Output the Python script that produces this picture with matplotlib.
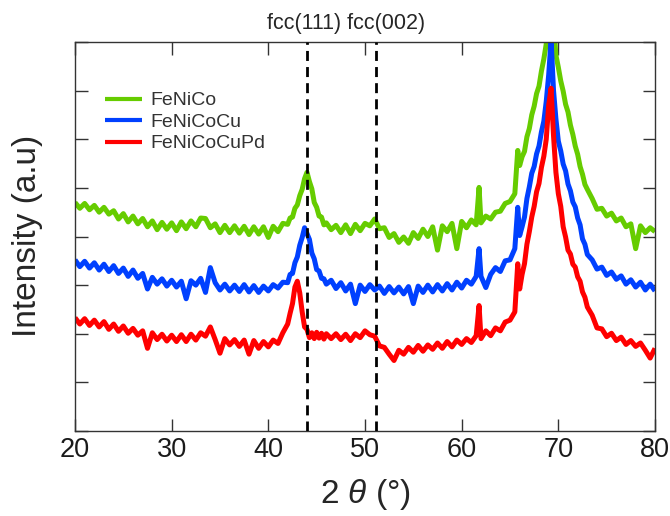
import numpy as np
import matplotlib
matplotlib.use("Agg")
import matplotlib.pyplot as plt
from matplotlib.transforms import blended_transform_factory

plt.rcParams['font.family'] = ['Liberation Sans', 'DejaVu Sans']
plt.rcParams['mathtext.fontset'] = 'custom'
plt.rcParams['mathtext.it'] = 'Liberation Sans:italic'
plt.rcParams['mathtext.rm'] = 'Liberation Sans'

# ---- sampling grid of 2-theta (degrees) ----
two_theta = np.concatenate([
    np.arange(20.0, 41.75, 0.5),    # 44
    np.arange(42.0, 46.1, 0.25),    # 17
    np.arange(46.5, 61.75, 0.5),    # 31
    [61.8],                         # 1
    np.arange(62.0, 65.75, 0.5),    # 8
    [65.8],                         # 1
    np.arange(66.0, 73.1, 0.25),    # 29
    np.arange(73.5, 80.25, 0.5),    # 14
])

# ---- intensities (a.u., offset for display) ----
fenico = [
    4.70, 4.58, 4.68, 4.55, 4.64, 4.50, 4.60, 4.46, 4.53, 4.36, 4.47, 4.30, 4.42, 4.26, 4.37, 4.20,
    4.32, 4.14, 4.29, 4.15, 4.28, 4.12, 4.30, 4.16, 4.32, 4.20, 4.38, 4.37, 4.18, 4.26, 4.08, 4.23,
    4.08, 4.22, 4.07, 4.21, 4.04, 4.20, 4.05, 4.20, 3.98, 4.21, 4.10, 4.27,
    4.25, 4.38, 4.40, 4.58, 4.65, 4.84, 4.97, 5.19, 5.32, 5.13, 4.98, 4.70, 4.60, 4.42, 4.40, 4.24, 4.28,
    4.14, 4.23, 4.08, 4.24, 4.06, 4.25, 4.12, 4.27, 4.22, 4.36, 4.16, 4.18, 3.98, 4.06, 3.88, 3.99,
    3.86, 4.08, 3.96, 4.15, 4.00, 4.20, 3.72, 4.22, 4.10, 4.27, 3.75, 4.31, 4.18, 4.34, 4.24,
    5.01,
    4.28, 4.42, 4.36, 4.50, 4.52, 4.68, 4.72, 4.88,
    5.77,
    5.46, 5.64, 5.75, 6.05, 6.22, 6.50, 6.68, 6.94, 7.09, 7.40, 7.65, 7.96, 8.45, 9.30, 8.35, 7.73,
    7.48, 7.20, 6.99, 6.72, 6.56, 6.29, 6.10, 5.86, 5.69, 5.44, 5.28, 5.07, 4.97,
    4.78, 4.56, 4.58, 4.42, 4.48, 4.32, 4.38, 4.20, 4.26, 3.75, 4.22, 4.08, 4.18, 4.10,
]

fenicocu = [
    3.52, 3.38, 3.49, 3.35, 3.46, 3.31, 3.43, 3.28, 3.40, 3.24, 3.35, 3.18, 3.31, 3.14, 3.24, 2.92,
    3.16, 3.02, 3.13, 2.98, 3.10, 2.96, 3.08, 2.72, 3.09, 3.00, 3.14, 2.85, 3.36, 3.05, 2.90, 3.02,
    2.88, 3.00, 2.87, 3.01, 2.86, 2.99, 2.85, 2.98, 2.88, 3.01, 2.94, 3.06,
    3.05, 3.22, 3.24, 3.46, 3.58, 3.82, 3.98, 4.18, 4.06, 3.94, 3.66, 3.54, 3.32, 3.29, 3.14, 3.13, 3.02,
    3.10, 2.93, 3.05, 2.88, 3.02, 2.62, 3.00, 2.87, 3.01, 2.90, 2.98, 2.83, 2.97, 2.84, 2.96, 2.82,
    2.97, 2.62, 2.98, 2.85, 3.00, 2.86, 3.01, 2.88, 3.03, 2.90, 3.06, 2.94, 3.10, 3.02, 3.18,
    3.75,
    3.18, 2.95, 3.22, 3.36, 3.28, 3.50, 3.52, 3.75,
    4.60,
    4.02, 4.20, 4.40, 4.78, 5.02, 5.30, 5.44, 5.70, 5.86, 6.15, 6.37, 6.78, 7.32, 8.05, 7.01, 6.42,
    5.96, 5.76, 5.49, 5.35, 5.08, 4.94, 4.71, 4.61, 4.38, 4.24, 3.95, 3.84, 3.63,
    3.52, 3.33, 3.37, 3.20, 3.27, 3.12, 3.19, 3.02, 3.11, 2.96, 3.06, 2.90, 3.02, 2.88,
]

fenicocupd = [
    2.33, 2.20, 2.31, 2.17, 2.28, 2.14, 2.25, 2.09, 2.20, 2.05, 2.16, 2.01, 2.11, 1.97, 2.06, 1.70,
    2.02, 1.88, 1.99, 1.85, 1.97, 1.84, 1.98, 1.84, 1.99, 1.87, 2.02, 1.95, 2.14, 1.88, 1.60, 1.90,
    1.77, 1.88, 1.74, 1.87, 1.58, 1.86, 1.70, 1.84, 1.73, 1.87, 1.80, 2.02,
    2.20, 2.42, 2.62, 2.96, 3.08, 2.84, 2.45, 2.14, 2.09, 1.92, 2.02, 1.90, 2.03, 1.91, 2.01, 1.89, 2.00,
    1.90, 2.00, 1.88, 1.99, 1.86, 2.00, 1.92, 2.06, 1.98, 1.95, 1.75, 1.72, 1.58, 1.45, 1.66, 1.58,
    1.72, 1.62, 1.76, 1.64, 1.77, 1.68, 1.81, 1.70, 1.84, 1.73, 1.87, 1.78, 1.90, 1.82, 1.96,
    2.58,
    1.90, 2.06, 1.96, 2.12, 2.06, 2.24, 2.28, 2.45,
    3.44,
    2.92, 3.22, 3.44, 3.84, 4.10, 4.40, 4.62, 4.92, 5.09, 5.42, 5.65, 6.00, 6.70, 7.05, 6.08, 5.32,
    4.88, 4.62, 4.20, 3.99, 3.72, 3.64, 3.43, 3.37, 3.17, 3.08, 2.86, 2.75, 2.55,
    2.38, 2.12, 2.10, 1.94, 2.01, 1.86, 1.93, 1.78, 1.86, 1.74, 1.81, 1.66, 1.50, 1.70,
]

series_names = ['FeNiCo', 'FeNiCoCu', 'FeNiCoCuPd']
series_colors = ['#66CC00', '#0040FF', '#FF0000']
series_values = [fenico, fenicocu, fenicocupd]

peak_positions = [44.0, 51.1]
peak_label = 'fcc(111) fcc(002)'
x_ticks = [20, 30, 40, 50, 60, 70, 80]
y_ticks = [0, 1, 2, 3, 4, 5, 6, 7, 8]

for v in series_values:
    assert len(v) == len(two_theta), (len(v), len(two_theta))

fig = plt.figure(figsize=(6.7, 5.16), dpi=100)
ax = fig.add_axes([75 / 670, 85 / 516, 580 / 670, 389 / 516])

for name, col, vals in zip(series_names, series_colors, series_values):
    ax.plot(two_theta, vals, color=col, lw=3.6, label=name,
            solid_joinstyle='round', solid_capstyle='butt')

for p in peak_positions:
    ax.axvline(p, color='black', lw=2.0, ls=(0, (3.6, 2.2)), zorder=5)

ax.set_xlim(20, 80)
ax.set_ylim(0, 8)
ax.set_xticks(x_ticks)
ax.set_yticks(y_ticks)
ax.set_yticklabels([])
ax.tick_params(axis='both', direction='in', top=True, right=True, length=9,
               width=1.0, color='#333333', labelcolor='#1a1a1a', labelsize=19.5, pad=4)
for s in ax.spines.values():
    s.set_color('#333333')
    s.set_linewidth(1.0)

leg = ax.legend(loc='upper left', bbox_to_anchor=(0.052, 0.872), frameon=False,
                fontsize=14, handlelength=1.9, handletextpad=0.45, labelspacing=0.2,
                borderpad=0, borderaxespad=0)
for h in leg.get_lines():
    h.set_linewidth(3.0)
for t in leg.get_texts():
    t.set_color('#333333')

trans = blended_transform_factory(ax.transData, fig.transFigure)
fig.text(48.0, 1 - 24 / 516, peak_label, transform=trans, ha='center', va='center',
         fontsize=15.5, color='#262626')

fig.text(28 / 670, 1 - 236 / 516, 'Intensity (a.u)', rotation=90, ha='center', va='center',
         fontsize=24, color='#262626')
fig.text(365 / 670, 1 - 494 / 516, '2 $\\theta$ (°)', ha='center', va='center',
         fontsize=24, color='#262626')

fig.savefig('out.png', dpi=100)
